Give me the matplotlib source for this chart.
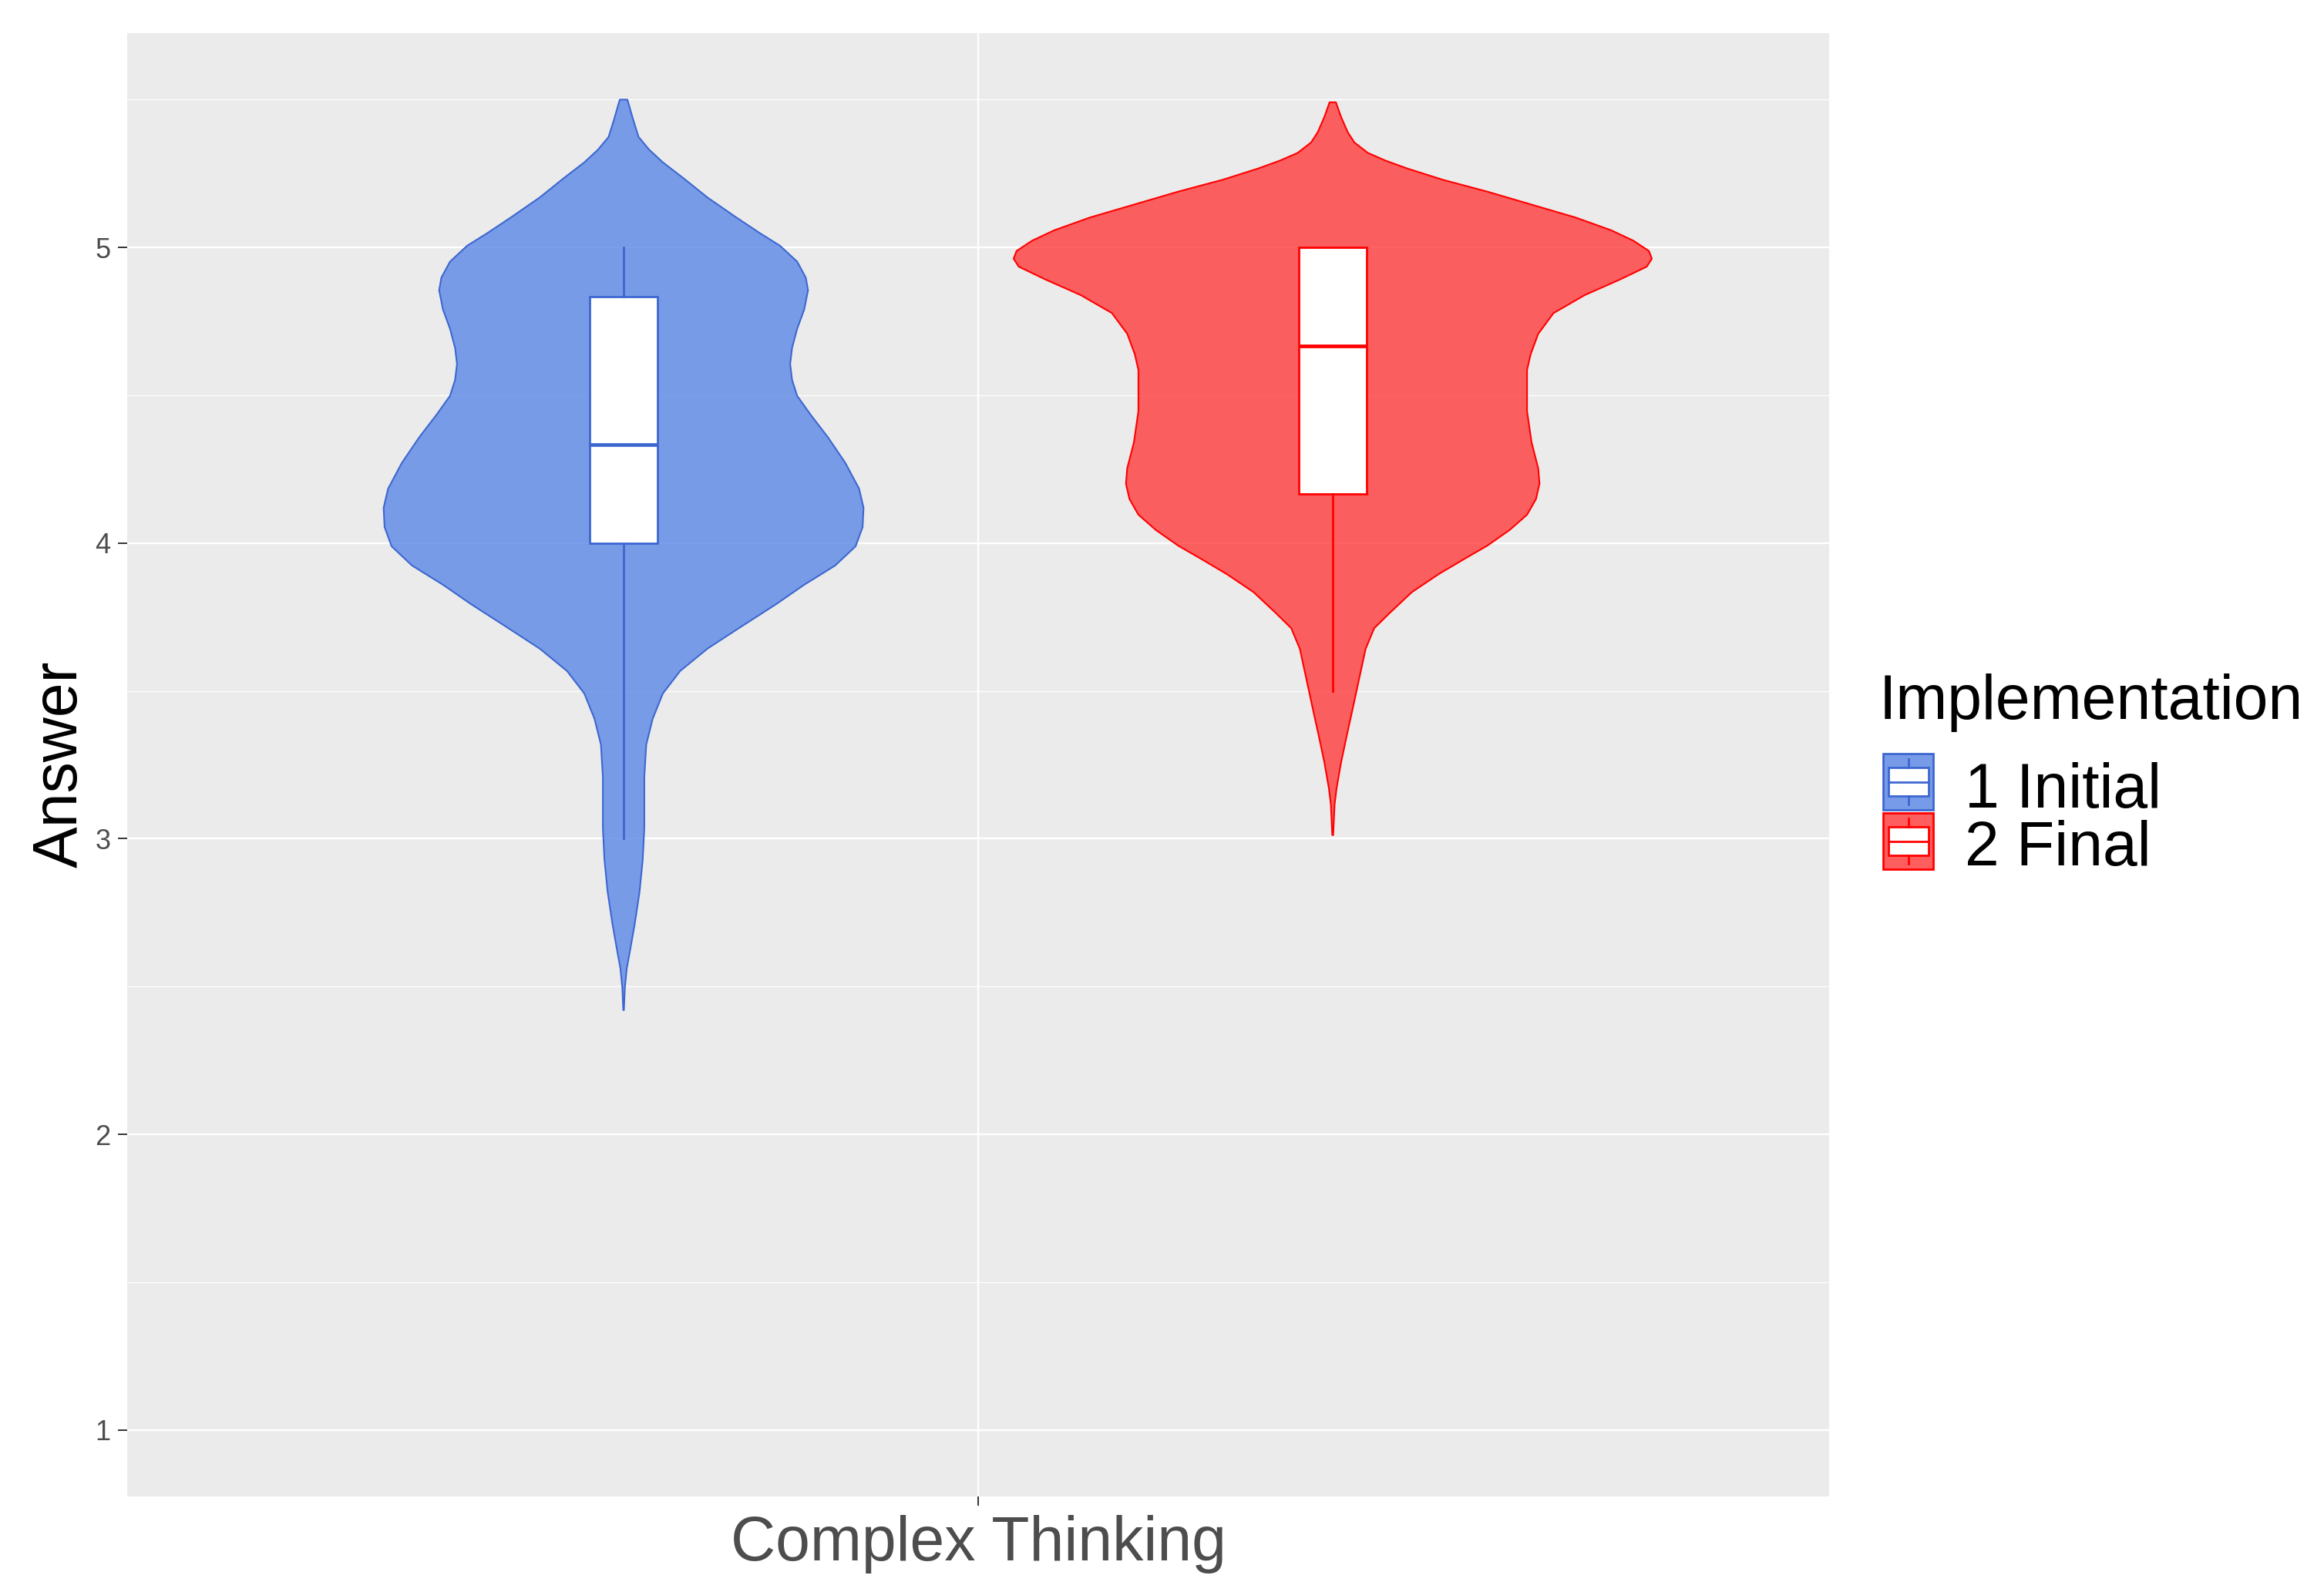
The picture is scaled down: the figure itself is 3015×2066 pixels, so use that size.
import matplotlib
matplotlib.use("Agg")
import matplotlib.pyplot as plt
from matplotlib.patches import Rectangle
import numpy as np

plt.rcParams["font.family"] = ["Liberation Sans", "DejaVu Sans"]

# ---------------- data ----------------
category = "Complex Thinking"
groups = ["1 Initial", "2 Final"]
legend_title = "Implementation"
y_label = "Answer"
y_ticks = [1, 2, 3, 4, 5]

# violin outlines: answer value and relative density (max of widest violin = 1)
initial_y = [5.500, 5.429, 5.374, 5.331, 5.288, 5.234, 5.169, 5.104, 5.050, 5.006,
             4.952, 4.898, 4.855, 4.790, 4.725, 4.660, 4.606, 4.552, 4.498, 4.433,
             4.357, 4.271, 4.184, 4.119, 4.054, 3.989, 3.924, 3.859, 3.794, 3.719,
             3.643, 3.567, 3.491, 3.405, 3.318, 3.210, 3.037, 2.929, 2.820, 2.712,
             2.626, 2.561, 2.496, 2.420]
initial_density = [0.012, 0.031, 0.047, 0.080, 0.123, 0.188, 0.263, 0.350, 0.425, 0.490,
                   0.544, 0.571, 0.578, 0.566, 0.544, 0.528, 0.522, 0.528, 0.544, 0.587,
                   0.641, 0.695, 0.738, 0.752, 0.749, 0.727, 0.663, 0.566, 0.479, 0.371,
                   0.263, 0.177, 0.123, 0.091, 0.071, 0.065, 0.065, 0.060, 0.050, 0.035,
                   0.021, 0.010, 0.004, 0.001]

final_y = [5.491, 5.442, 5.390, 5.355, 5.320, 5.294, 5.267, 5.229, 5.189, 5.145,
           5.101, 5.058, 5.023, 4.988, 4.962, 4.935, 4.892, 4.839, 4.778, 4.708,
           4.638, 4.586, 4.446, 4.341, 4.253, 4.201, 4.149, 4.096, 4.044, 3.991,
           3.948, 3.895, 3.834, 3.764, 3.712, 3.642, 3.537, 3.432, 3.344, 3.257,
           3.170, 3.117, 3.012]
final_density = [0.010, 0.026, 0.047, 0.068, 0.110, 0.165, 0.234, 0.345, 0.484, 0.623,
                 0.762, 0.873, 0.942, 0.991, 1.000, 0.984, 0.901, 0.790, 0.692, 0.644,
                 0.620, 0.609, 0.609, 0.623, 0.644, 0.648, 0.637, 0.609, 0.554, 0.484,
                 0.415, 0.332, 0.248, 0.179, 0.130, 0.103, 0.082, 0.061, 0.043, 0.026,
                 0.012, 0.006, 0.0014]

# box plot statistics
initial_box = dict(whislo=3.0, q1=4.0, med=4.333, q3=4.833, whishi=5.0)
final_box = dict(whislo=3.5, q1=4.167, med=4.667, q3=5.0, whishi=5.0)

# ---------------- styling ----------------
W, H, DPI = 3015, 2066, 100
fills = [(90/255, 135/255, 231/255, 0.8), (1.0, 59/255, 59/255, 0.8)]
edges = ["#3D67D0", "#FF0000"]
key_fills = ["#779BE8", "#FF5E5E"]

fig = plt.figure(figsize=(W / DPI, H / DPI), dpi=DPI)
L, R, T, B = 165, 2373, 43, 1942
ax = fig.add_axes([L / W, 1 - B / H, (R - L) / W, (B - T) / H])
ax.set_facecolor("#EBEBEB")
for s in ax.spines.values():
    s.set_visible(False)

ax.set_xlim(0.4, 1.6)
ax.set_ylim(0.775, 5.725)
ax.set_yticks(y_ticks)
ax.set_yticks([v + 0.5 for v in y_ticks], minor=True)
ax.set_xticks([1])
ax.set_xticklabels([category])
ax.set_axisbelow(True)
ax.grid(which="major", color="white", linewidth=1.7)
ax.grid(which="minor", axis="y", color="white", linewidth=0.9)
ax.tick_params(axis="y", which="major", length=8.6, width=1.4, color="#333333",
               labelsize=26, labelcolor="#4D4D4D", pad=7)
ax.tick_params(axis="x", which="major", length=8.6, width=1.4, color="#333333",
               labelsize=58, labelcolor="#4D4D4D", pad=9)
ax.tick_params(which="minor", length=0)

positions = [0.75, 1.25]
half_width = 0.225
box_width = 0.048
profiles = [(initial_y, initial_density), (final_y, final_density)]
boxes = [initial_box, final_box]

for pos, (yy, dd), fc, ec, st in zip(positions, profiles, fills, edges, boxes):
    yy = np.asarray(yy)
    hw = np.asarray(dd) * half_width
    xs = np.concatenate([pos + hw, (pos - hw)[::-1]])
    ys = np.concatenate([yy, yy[::-1]])
    ax.fill(xs, ys, facecolor=fc, edgecolor=ec, linewidth=1.5, zorder=2,
            joinstyle="round")
    stats = dict(st)
    stats["fliers"] = []
    ax.bxp([stats], positions=[pos], widths=[box_width], patch_artist=True,
           showcaps=False, showfliers=False, manage_ticks=False, zorder=3,
           boxprops=dict(facecolor="white", edgecolor=ec, linewidth=2.0),
           whiskerprops=dict(color=ec, linewidth=2.0),
           medianprops=dict(color=ec, linewidth=3.4, solid_capstyle="butt"))

# ---------------- overlay for titles and legend (pixel coordinates) ----------------
ov = fig.add_axes([0, 0, 1, 1], zorder=5)
ov.set_xlim(0, W)
ov.set_ylim(H, 0)
ov.axis("off")

ov.text(100, 992, y_label, rotation=90, rotation_mode="anchor", ha="center",
        va="baseline", fontsize=58, color="black")

ov.text(2438, 933, legend_title, ha="left", va="baseline", fontsize=58, color="black")
key_tops = [978, 1055]
key_x0, key_w, key_h = 2443, 65, 73
baselines = [1048, 1123]
for top, base, lab, kf, ec in zip(key_tops, baselines, groups, key_fills, edges):
    ov.add_patch(Rectangle((key_x0, top), key_w, key_h, facecolor=kf, edgecolor=ec,
                           linewidth=2.0))
    bx0 = key_x0 + 0.1 * key_w
    bw = 0.8 * key_w
    by0 = top + 0.25 * key_h
    bh = 0.5 * key_h
    ov.add_patch(Rectangle((bx0, by0), bw, bh, facecolor="white", edgecolor=ec,
                           linewidth=2.0))
    cx = key_x0 + key_w / 2
    ov.plot([bx0, bx0 + bw], [top + 0.5 * key_h] * 2, color=ec, linewidth=2.0)
    ov.plot([cx, cx], [top + 0.1 * key_h, by0], color=ec, linewidth=2.0)
    ov.plot([cx, cx], [by0 + bh, top + 0.9 * key_h], color=ec, linewidth=2.0)
    ov.text(2549, base, lab, ha="left", va="baseline", fontsize=58, color="black")

fig.savefig("out.png", dpi=DPI, facecolor="white")
